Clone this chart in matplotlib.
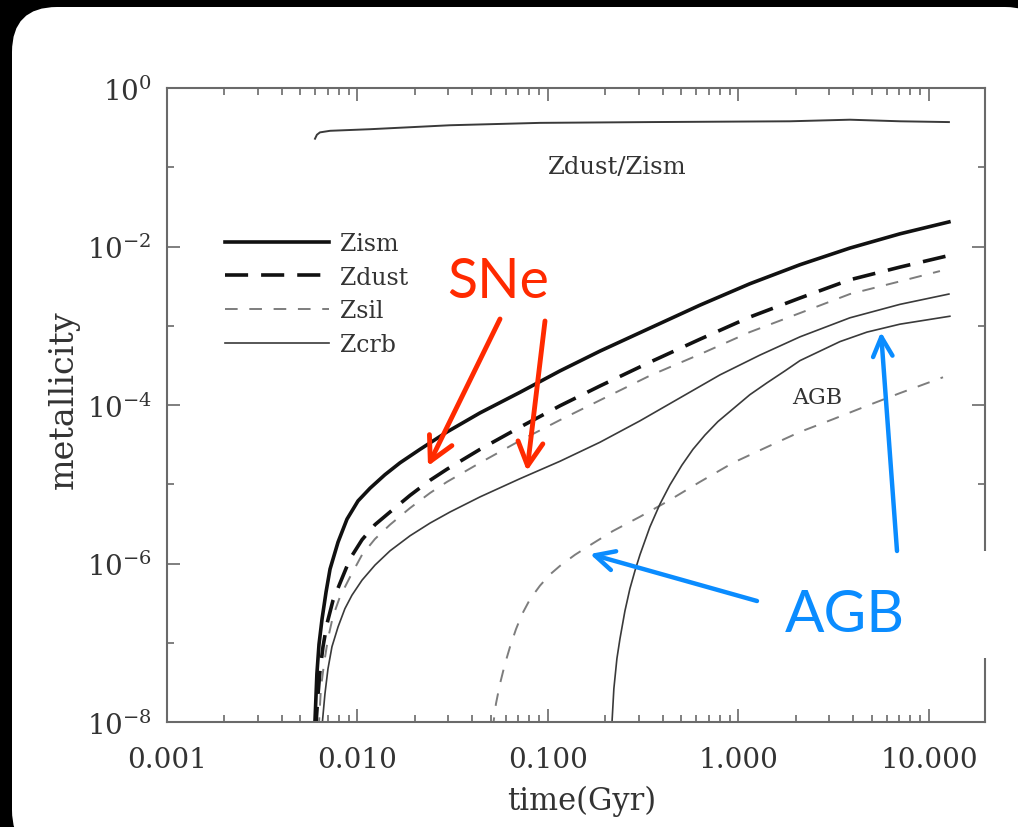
import matplotlib

matplotlib.use("Agg")
import matplotlib.pyplot as plt  # noqa: E402
import numpy as np  # noqa: E402
from matplotlib import ticker  # noqa: E402
from matplotlib.patches import FancyBboxPatch, Rectangle  # noqa: E402

W, H = 1018, 828

# ---- curves, kept as log10 values
# log10(time / Gyr), log10(metallicity)
lt_ism = [-2.225, -2.213, -2.202, -2.186, -2.165, -2.144, -2.102, -2.055, -1.997,
          -1.934, -1.856, -1.777, -1.672, -1.530, -1.357, -1.147, -0.937, -0.727,
          -0.465, -0.202, 0.060, 0.323, 0.585, 0.848, 1.105]
lz_ism = [-8.10, -7.39, -7.02, -6.70, -6.36, -6.07, -5.73, -5.44, -5.21, -5.05,
          -4.88, -4.73, -4.56, -4.34, -4.10, -3.84, -3.57, -3.32, -3.03, -2.74,
          -2.47, -2.23, -2.02, -1.84, -1.69]

lt_dust = [-2.220, -2.207, -2.197, -2.181, -2.160, -2.129, -2.092, -2.039, -1.976,
           -1.908, -1.829, -1.724, -1.619, -1.530, -1.357, -1.147, -0.937, -0.727,
           -0.465, -0.202, 0.060, 0.323, 0.585, 0.848, 1.094]
lz_dust = [-8.10, -7.65, -7.36, -7.05, -6.76, -6.47, -6.25, -5.94, -5.70, -5.51,
           -5.35, -5.14, -4.95, -4.81, -4.56, -4.28, -4.01, -3.76, -3.46, -3.17,
           -2.89, -2.65, -2.42, -2.26, -2.12]

lt_sil = [-2.204, -2.192, -2.176, -2.155, -2.129, -2.092, -2.039, -1.976, -1.908,
          -1.829, -1.724, -1.619, -1.530, -1.357, -1.147, -0.937, -0.727, -0.465,
          -0.202, 0.060, 0.323, 0.585, 0.848, 1.058]
lz_sil = [-8.10, -7.58, -7.27, -6.95, -6.67, -6.42, -6.17, -5.89, -5.69, -5.51,
          -5.30, -5.11, -4.97, -4.73, -4.45, -4.19, -3.94, -3.63, -3.36, -3.08,
          -2.84, -2.60, -2.44, -2.31]

lt_crb = [-2.188, -2.171, -2.155, -2.134, -2.102, -2.066, -2.029, -1.976, -1.908,
          -1.829, -1.724, -1.619, -1.514, -1.357, -1.147, -0.937, -0.727, -0.517,
          -0.307, -0.097, 0.113, 0.323, 0.585, 0.848, 1.105]
lz_crb = [-8.10, -7.65, -7.33, -7.05, -6.80, -6.57, -6.40, -6.21, -6.02, -5.84,
          -5.65, -5.49, -5.35, -5.16, -4.93, -4.71, -4.47, -4.20, -3.91, -3.62,
          -3.37, -3.14, -2.90, -2.73, -2.60]

# AGB contributions
lt_sil_agb = [-1.291, -1.273, -1.252, -1.226, -1.199, -1.168, -1.136, -1.094,
              -1.042, -0.990, -0.937, -0.858, -0.780, -0.659, -0.517, -0.375,
              -0.202, -0.029, 0.150, 0.323, 0.496, 0.675, 0.848, 1.074]
lz_sil_agb = [-8.10, -7.77, -7.52, -7.27, -7.05, -6.83, -6.64, -6.45, -6.28,
              -6.14, -6.03, -5.89, -5.77, -5.59, -5.41, -5.22, -4.97, -4.73,
              -4.53, -4.34, -4.18, -4.01, -3.85, -3.65]

lt_crb_agb = [-0.666, -0.654, -0.638, -0.622, -0.596, -0.570, -0.543, -0.517,
              -0.465, -0.412, -0.360, -0.297, -0.239, -0.176, -0.108, -0.029,
              0.060, 0.150, 0.244, 0.323, 0.428, 0.533, 0.675, 0.848, 1.110]
lz_crb_agb = [-8.10, -7.58, -7.20, -6.95, -6.60, -6.32, -6.09, -5.89, -5.54,
              -5.25, -5.01, -4.76, -4.56, -4.38, -4.21, -4.05, -3.87, -3.72,
              -3.57, -3.44, -3.32, -3.20, -3.08, -2.98, -2.88]

lt_ratio = [-2.223, -2.213, -2.197, -2.144, -1.934, -1.514, -1.042, -0.465,
            0.270, 0.585, 0.848, 1.105]
lz_ratio = [-0.64, -0.59, -0.56, -0.54, -0.52, -0.47, -0.44, -0.43, -0.42,
            -0.40, -0.42, -0.43]

legend_labels = ["Zism", "Zdust", "Zsil", "Zcrb"]
y_major = [1e-8, 1e-6, 1e-4, 1e-2, 1e0]
y_minor = [1e-7, 1e-5, 1e-3, 1e-1]

INK = "#111111"
GREY = "#7d7d7d"
THIN = "#3a3a3a"
FRAME = "#6a6a6a"
LBL = "#333333"
RED = "#ff2a00"
BLUE = "#0a8cff"


def lin(v):
    return 10.0 ** np.asarray(v)


def px2ax(x, y):
    """figure pixel (from top-left) -> axes fraction of the main plot"""
    return (x - 167) / 818, (723 - y) / 634


def main():
    plt.rcParams.update({"font.family": "DejaVu Serif",
                         "mathtext.fontset": "dejavuserif"})
    fig = plt.figure(figsize=(W / 100, H / 100), dpi=100)
    fig.patch.set_facecolor("black")

    # rounded white slide background
    bg = fig.add_axes([0, 0, 1, 1], zorder=-1)
    bg.set_xlim(0, W)
    bg.set_ylim(H, 0)
    bg.axis("off")
    bg.add_patch(FancyBboxPatch((12, 8), W + 20, H + 20,
                                boxstyle="round,pad=0,rounding_size=45",
                                fc="white", ec="none"))

    # ------------------------------------------------ main plot
    ax = fig.add_axes([167 / W, 1 - 723 / H, 818 / W, 634 / H])
    ax.set_facecolor("none")
    ax.set_xscale("log")
    ax.set_yscale("log")
    ax.set_xlim(1e-3, 19.7)
    ax.set_ylim(1e-8, 1.0)

    l1, = ax.plot(lin(lt_ism), lin(lz_ism), color=INK, lw=2.6,
                  label=legend_labels[0])
    l2, = ax.plot(lin(lt_dust), lin(lz_dust), color=INK, lw=2.6,
                  dashes=(6.4, 3.6), label=legend_labels[1])
    l3, = ax.plot(lin(lt_sil), lin(lz_sil), color=GREY, lw=1.4,
                  dashes=(6.5, 6.0), label=legend_labels[2])
    l4, = ax.plot(lin(lt_crb), lin(lz_crb), color=THIN, lw=1.2,
                  label=legend_labels[3])
    ax.plot(lin(lt_sil_agb), lin(lz_sil_agb), color=GREY, lw=1.4, dashes=(6.5, 6.0))
    ax.plot(lin(lt_crb_agb), lin(lz_crb_agb), color=THIN, lw=1.2)
    ax.plot(lin(lt_ratio), lin(lz_ratio), color=THIN, lw=1.4)

    for s in ax.spines.values():
        s.set_color(FRAME)
        s.set_linewidth(1.5)

    ax.xaxis.set_major_locator(ticker.LogLocator(base=10, numticks=12))
    ax.xaxis.set_minor_locator(ticker.LogLocator(base=10, subs=range(2, 10),
                                                 numticks=40))
    ax.xaxis.set_major_formatter(ticker.FuncFormatter(lambda v, p: f"{v:.3f}"))
    ax.xaxis.set_minor_formatter(ticker.NullFormatter())
    ax.yaxis.set_major_locator(ticker.FixedLocator(y_major))
    ax.yaxis.set_minor_locator(ticker.FixedLocator(y_minor))
    ax.yaxis.set_major_formatter(ticker.FuncFormatter(
        lambda v, p: rf"$10^{{{int(round(np.log10(v)))}}}$"))
    ax.yaxis.set_minor_formatter(ticker.NullFormatter())
    ax.tick_params(which="both", direction="in", top=True, right=True,
                   color=FRAME, width=1.2, labelsize=20, labelcolor=LBL)
    ax.tick_params(which="major", length=9.5)
    ax.tick_params(which="minor", length=5)
    ax.tick_params(axis="x", pad=17)
    ax.tick_params(axis="y", pad=11)

    ax.set_xlabel("time(Gyr)", fontsize=22, color=LBL)
    ax.xaxis.set_label_coords(*px2ax(582, 786))
    ax.set_ylabel("metallicity", fontsize=24, color=LBL)
    ax.yaxis.set_label_coords(*px2ax(80, 400))

    ax.legend(handles=[l1, l2, l3, l4], loc="upper left",
              bbox_to_anchor=(225 / W, 1 - 233 / H), bbox_transform=fig.transFigure,
              frameon=False, borderpad=0, borderaxespad=0, handlelength=4.4,
              handletextpad=0.45, labelspacing=0.45, fontsize=17,
              labelcolor=LBL)

    ax.text(*px2ax(617, 167), "Zdust/Zism", transform=ax.transAxes,
            ha="center", va="center", fontsize=17.5, color=LBL)
    ax.text(*px2ax(817, 398), "AGB", transform=ax.transAxes,
            ha="center", va="center", fontsize=16, color=LBL)

    # ------------------------------------------------ slide overlay
    ov = fig.add_axes([0, 0, 1, 1], zorder=5)
    ov.set_xlim(0, W)
    ov.set_ylim(H, 0)
    ov.axis("off")
    ov.add_patch(Rectangle((770, 552), 250, 107, fc="white", ec="none"))

    ov.text(447, 298, "SNe", color=RED, fontsize=40, family="Lato",
            ha="left", va="baseline")
    ov.text(785, 632, "AGB", color=BLUE, fontsize=42, family="Lato",
            ha="left", va="baseline")

    red_arrow = dict(arrowstyle="->,head_length=0.85,head_width=0.45",
                     color=RED, lw=3.5, mutation_scale=20, shrinkA=0, shrinkB=0)
    ov.annotate("", xy=(428, 467), xytext=(500, 320), arrowprops=red_arrow)
    ov.annotate("", xy=(527, 472), xytext=(545, 322), arrowprops=red_arrow)

    blue_arrow = dict(arrowstyle="->,head_length=0.7,head_width=0.35",
                      color=BLUE, lw=3.2, mutation_scale=20, shrinkA=0, shrinkB=0)
    ov.annotate("", xy=(590, 555), xytext=(757, 602), arrowprops=blue_arrow)
    ov.annotate("", xy=(881, 333), xytext=(897, 552), arrowprops=blue_arrow)

    fig.savefig("out.png", dpi=100, facecolor=fig.get_facecolor())
    plt.close(fig)


if __name__ == "__main__":
    main()
